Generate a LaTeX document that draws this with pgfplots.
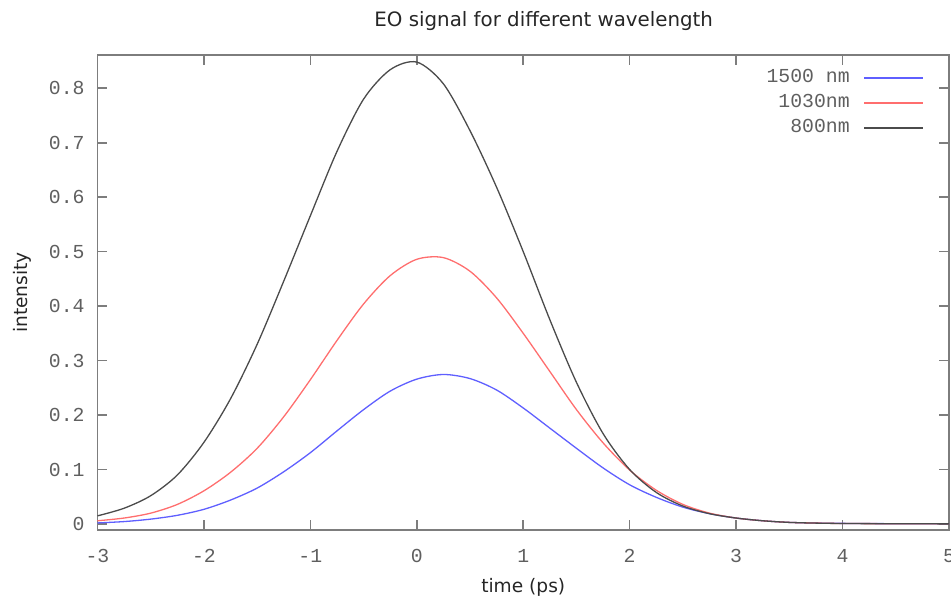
\documentclass[border=0pt]{standalone}
\usepackage{fontspec}
\setmainfont{DejaVu Sans}
\newfontfamily\monofont{Liberation Mono}
\usepackage{pgfplots}
\usetikzlibrary{calc}
\pgfplotsset{compat=1.18}
\definecolor{frame}{RGB}{125,125,125}
\definecolor{ticktext}{RGB}{95,95,95}
\definecolor{c1500}{RGB}{95,95,255}
\definecolor{c1030}{RGB}{255,110,110}
\definecolor{c800}{RGB}{75,75,75}

\begin{document}
\begin{tikzpicture}
\begin{axis}[
    name=ax,
    width=425.75pt, height=237.5pt, scale only axis,
    xmin=-3, xmax=5, ymin=-0.011, ymax=0.861,
    xtick={-3,-2,-1,0,1,2,3,4,5},
    xticklabels={-3,-2,-1,0,1,2,3,4,5},
    ytick={0,0.1,0.2,0.3,0.4,0.5,0.6,0.7,0.8},
    yticklabels={0,0.1,0.2,0.3,0.4,0.5,0.6,0.7,0.8},
    tick align=inside, major tick length=5pt,
    axis line style={frame, line width=0.8pt},
    every tick/.style={frame, line width=0.8pt},
    ticklabel style={font=\monofont\fontsize{9.9}{12}\selectfont, text=ticktext},
    xticklabel style={anchor=base, yshift=-16pt, inner sep=0pt},
    yticklabel style={anchor=east, inner sep=0pt, xshift=-6.25pt},
    title={EO signal for different wavelength},
    title style={at={(axis description cs:0.524,1.0653)}, anchor=base, yshift=-7.5pt,
                 font=\fontsize{9.9}{12}\selectfont, text=black!85},
    xlabel={time (ps)},
    xlabel style={at={(axis description cs:0.5,-0.1305)}, anchor=base,
                  font=\fontsize{9.3}{12}\selectfont, text=black!85},
    ylabel={intensity},
    ylabel style={at={(axis description cs:-0.0887,0.5)}, anchor=center,
                  rotate=0, font=\fontsize{9.3}{12}\selectfont, text=black!85},
    legend style={draw=none, fill=none, at={(axis description cs:1,1)},
                  anchor=north east, xshift=-12.5pt, yshift=-7.75pt,
                  inner sep=0pt, outer sep=0pt, row sep=5pt, column sep=7pt,
                  font=\monofont\fontsize{9.9}{12}\selectfont, text=ticktext,
                  nodes={inner sep=0pt, text height=6pt, text depth=1.5pt}},
    legend cell align=right,
    legend plot pos=right,
    legend image code/.code={\draw[#1] (0pt,0pt) -- (29.5pt,0pt);},
]
% 1500 nm
\addplot[c1500, line width=0.65pt, smooth] coordinates {
(-3.0,0.002) (-2.75,0.0045) (-2.5,0.009) (-2.25,0.016) (-2.0,0.027)
(-1.75,0.044) (-1.5,0.066) (-1.25,0.096) (-1.0,0.131) (-0.75,0.171)
(-0.5,0.210) (-0.25,0.244) (0.0,0.266) (0.25,0.2745) (0.5,0.267)
(0.75,0.246) (1.0,0.213) (1.25,0.176) (1.5,0.139) (1.75,0.103)
(2.0,0.072) (2.25,0.049) (2.5,0.031) (2.75,0.019) (3.0,0.011)
(3.25,0.006) (3.5,0.003) (3.75,0.0018) (4.0,0.0012) (4.5,0.0006) (5.0,0.0005)
};
\addlegendentry{1500 nm}
% 1030 nm
\addplot[c1030, line width=0.65pt, smooth] coordinates {
(-3.0,0.006) (-2.75,0.011) (-2.5,0.020) (-2.25,0.036) (-2.0,0.061)
(-1.75,0.095) (-1.5,0.139) (-1.25,0.197) (-1.0,0.265) (-0.75,0.337)
(-0.5,0.404) (-0.25,0.456) (0.0,0.486) (0.25,0.489) (0.5,0.464)
(0.75,0.415) (1.0,0.350) (1.25,0.280) (1.5,0.210) (1.75,0.149)
(2.0,0.099) (2.25,0.062) (2.5,0.036) (2.75,0.020) (3.0,0.011)
(3.25,0.006) (3.5,0.003) (3.75,0.0018) (4.0,0.001) (4.5,0.0006) (5.0,0.0005)
};
\addlegendentry{1030nm}
% 800 nm
\addplot[c800, line width=0.65pt, smooth] coordinates {
(-3.0,0.015) (-2.75,0.029) (-2.5,0.052) (-2.25,0.090) (-2.0,0.150)
(-1.75,0.230) (-1.5,0.330) (-1.25,0.446) (-1.0,0.566) (-0.75,0.684)
(-0.5,0.780) (-0.25,0.834) (0.0,0.848) (0.25,0.808) (0.5,0.722)
(0.75,0.618) (1.0,0.500) (1.25,0.375) (1.5,0.260) (1.75,0.166)
(2.0,0.100) (2.25,0.058) (2.5,0.033) (2.75,0.019) (3.0,0.011)
(3.25,0.006) (3.5,0.003) (3.75,0.0017) (4.0,0.001) (4.5,0.0005) (5.0,0.0003)
};
\addlegendentry{800nm}
\end{axis}
\pgfresetboundingbox
\path ($(ax.south west)+(-48.75pt,-37.5pt)$) rectangle ($(ax.north east)+(1pt,27.5pt)$);
\end{tikzpicture}
\end{document}
